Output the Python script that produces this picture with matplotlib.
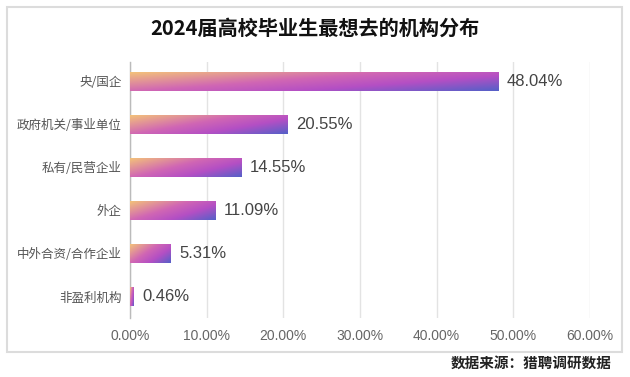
import numpy as np
import matplotlib
matplotlib.use("Agg")
import matplotlib.pyplot as plt
from matplotlib.colors import LinearSegmentedColormap
from matplotlib.patches import Rectangle

plt.rcParams['font.family'] = ['Noto Sans CJK SC', 'DejaVu Sans']
NUMFONT = ['Liberation Sans', 'DejaVu Sans']

categories = ["央/国企", "政府机关/事业单位", "私有/民营企业", "外企", "中外合资/合作企业", "非盈利机构"]
values = [48.04, 20.55, 14.55, 11.09, 5.31, 0.46]
xticks = [0, 10, 20, 30, 40, 50, 60]
xticklabels = ["0.00%", "10.00%", "20.00%", "30.00%", "40.00%", "50.00%", "60.00%"]
title = "2024届高校毕业生最想去的机构分布"
source = "数据来源：猎聘调研数据"

cmap = LinearSegmentedColormap.from_list(
    "grad", [(0.0, "#f3c17a"), (0.42, "#d066b4"), (0.68, "#b44fc4"), (1.0, "#5560c8")])

fig = plt.figure(figsize=(6.3, 3.77), dpi=100)
fig.patches.append(Rectangle((0.011, 0.066), 0.976, 0.915, transform=fig.transFigure,
                             fill=False, edgecolor="#dcdcdc", linewidth=1.5))
ax = fig.add_axes([0.2063, 0.1565, 0.7302, 0.679])

h = 0.44
nx, ny = 200, 40
u = np.linspace(0, 1, nx)[None, :]
v = np.linspace(0, 1, ny)[:, None]
grad = 0.6 * u + 0.4 * v
for i, val in enumerate(values):
    ax.imshow(grad, cmap=cmap, vmin=0, vmax=1, aspect="auto", interpolation="bilinear",
              extent=(0, val, i + h / 2, i - h / 2), zorder=3)
    ax.text(val + 1.1, i, f"{val:.2f}%", va="center", ha="left", fontsize=12,
            color="#444444", family=NUMFONT, zorder=4)

ax.set_xlim(0, 60)
ax.set_ylim(len(categories) - 0.5, -0.45)
ax.set_xticks(xticks)
ax.set_xticklabels(xticklabels, fontsize=10, color="#666666", family=NUMFONT)
ax.set_yticks(range(len(categories)))
ax.set_yticklabels(categories, fontsize=9, color="#555555", fontweight="medium")
ax.tick_params(axis="both", length=0)
ax.tick_params(axis="x", pad=8)
ax.tick_params(axis="y", pad=6)
ax.grid(axis="x", color="#e3e3e3", linewidth=1, zorder=0)
ax.set_axisbelow(True)
for s in ["top", "right", "bottom"]:
    ax.spines[s].set_visible(False)
ax.spines["left"].set_color("#bbbbbb")
ax.spines["left"].set_linewidth(1)

fig.text(0.5, 0.925, title, ha="center", va="center", fontsize=14.5, fontweight="bold", color="#111111")
fig.text(0.971, 0.037, source, ha="right", va="center", fontsize=10.5, fontweight="heavy", color="#222222")

fig.savefig("out.png", dpi=100)
